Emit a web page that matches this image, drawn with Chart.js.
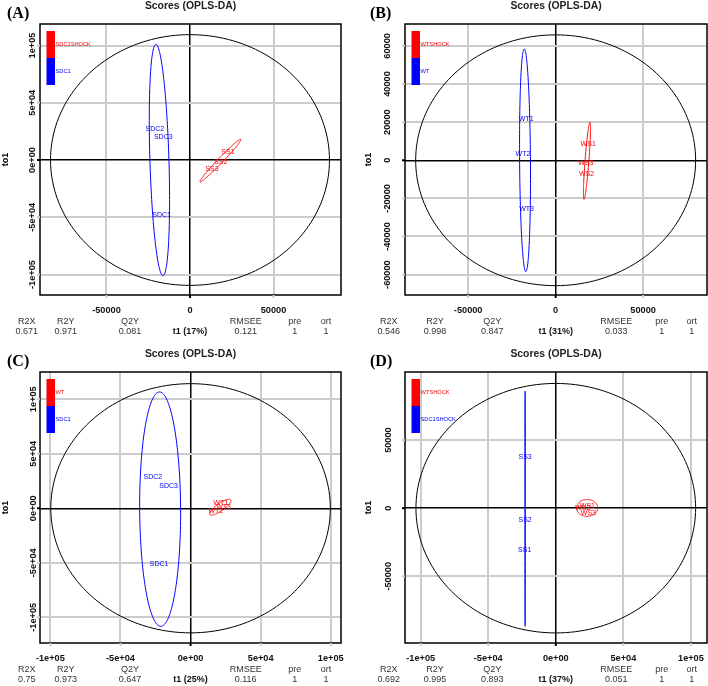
<!DOCTYPE html>
<html lang="en">
<head>
<meta charset="UTF-8" />
<title>Scores (OPLS-DA)</title>
<script src="https://cdn.jsdelivr.net/npm/chart.js@4.4.0/dist/chart.umd.min.js"></script>
<style>
  html, body { margin: 0; padding: 0; background: #fff; }
  #grid { position: relative; width: 708px; height: 686px; }
  .panel { position: absolute; width: 354px; height: 343px; }
</style>
</head>
<body>
<div id="grid">
  <div class="panel" style="left:0;top:0"><canvas id="chartA" width="354" height="343"></canvas></div>
  <div class="panel" style="left:354px;top:0"><canvas id="chartB" width="354" height="343"></canvas></div>
  <div class="panel" style="left:0;top:343px"><canvas id="chartC" width="354" height="343"></canvas></div>
  <div class="panel" style="left:354px;top:343px"><canvas id="chartD" width="354" height="343"></canvas></div>
</div>

<script>
// ---- data ----
const statNames = ['R2X', 'R2Y', 'Q2Y', 'RMSEE', 'pre', 'ort'];
const tickE5 = ['-1e+05', '-5e+04', '0e+00', '5e+04', '1e+05'];

// ellipses are [centre t1, centre to1, half-axis u (t1, to1), half-axis v (t1, to1)]

// (A) SDC1SHOCK vs SDC1
const aGroups = ['SDC1SHOCK', 'SDC1'];
const aRedNames = ['SS1', 'SS2', 'SS3'];
const aRedT1 = [22700, 18400, 13200];
const aRedTo1 = [7000, -1500, -7500];
const aBlueNames = ['SDC2', 'SDC3', 'SDC1'];
const aBlueT1 = [-21000, -16000, -17000];
const aBlueTo1 = [27000, 20000, -48000];
const aStats = ['0.671', '0.971', '0.081', '0.121', '1', '1'];
const aXTicks = [-50000, 0, 50000];
const aXLabels = ['-50000', '0', '50000'];
const aYTicks = [-1e5, -5e4, 0, 5e4, 1e5];
const aXRange = [-89800, 90400];
const aYRange = [-117900, 118800];
const aEllT2 = [0, 0, 83500, 0, 0, 109500];
const aEllRed = [18200, -500, 12200, 18500, 1100, -1500];
const aEllBlue = [-18300, 0, -2100, 101000, 5700, 0];

// (B) WTSHOCK vs WT
const bGroups = ['WTSHOCK', 'WT'];
const bRedNames = ['WS1', 'WS3', 'WS2'];
const bRedT1 = [18600, 17300, 17700];
const bRedTo1 = [8500, -1600, -7300];
const bBlueNames = ['WT1', 'WT2', 'WT3'];
const bBlueT1 = [-16800, -18700, -16600];
const bBlueTo1 = [21500, 3500, -25700];
const bStats = ['0.546', '0.998', '0.847', '0.033', '1', '1'];
const bXTicks = [-50000, 0, 50000];
const bXLabels = ['-50000', '0', '50000'];
const bYTicks = [-60000, -40000, -20000, 0, 20000, 40000, 60000];
const bYLabels = ['-60000', '-40000', '-20000', '0', '20000', '40000', '60000'];
const bXRange = [-86100, 86500];
const bYRange = [-70700, 71500];
const bEllT2 = [0, 0, 80000, 0, 0, 65800];
const bEllRed = [17900, -250, 1700, 20250, 1100, 0];
const bEllBlue = [-17500, 0, -450, 58450, 3100, 0];

// (C) WT vs SDC1
const cGroups = ['WT', 'SDC1'];
const cRedNames = ['WT1', 'WT2', 'WT3'];
const cRedT1 = [21500, 18000, 23500];
const cRedTo1 = [4500, -2500, 1000];
const cBlueNames = ['SDC2', 'SDC3', 'SDC1'];
const cBlueT1 = [-26900, -15700, -22400];
const cBlueTo1 = [29000, 20200, -50800];
const cStats = ['0.75', '0.973', '0.647', '0.116', '1', '1'];
const cXTicks = [-1e5, -5e4, 0, 5e4, 1e5];
const cYTicks = [-1e5, -5e4, 0, 5e4, 1e5];
const cXRange = [-107400, 107300];
const cYRange = [-123600, 125000];
const cEllT2 = [0, 0, 99700, 0, 0, 114300];
const cEllRed = [21200, 1000, 7200, 7000, 2400, -2000];
const cEllBlue = [-21700, -800, -450, 107500, 14600, 0];

// (D) WTSHOCK vs SDC1SHOCK
const dGroups = ['WTSHOCK', 'SDC1SHOCK'];
const dRedNames = ['WS1', 'WS2', 'WS3'];
const dRedT1 = [23400, 20000, 24100];
const dRedTo1 = [1900, 0, -3500];
const dBlueNames = ['SS3', 'SS2', 'SS1'];
const dBlueT1 = [-22700, -22700, -23000];
const dBlueTo1 = [37900, -8600, -30900];
const dStats = ['0.692', '0.995', '0.893', '0.051', '1', '1'];
const dXTicks = [-1e5, -5e4, 0, 5e4, 1e5];
const dYTicks = [-50000, 0, 50000];
const dYLabels = ['-50000', '0', '50000'];
const dXRange = [-111600, 111900];
const dYRange = [-99000, 100000];
const dEllT2 = [0, 0, 103500, 0, 0, 91600];
const dEllRed = [23200, 200, 7800, 0, 0, 6200];
const dEllBlue = [-22700, -400, 0, 86400, 40, 0];

// ---- drawing ----
const RED = '#ff0000', BLUE = '#0000ff', GRID = '#cccccc';
const SANS = '"Liberation Sans", Arial, sans-serif';

function points(xs, ys) { return xs.map((x, i) => ({ x, y: ys[i] })); }

function text(ctx, str, x, y, font, color, align, rot) {
  ctx.save();
  ctx.font = font;
  ctx.fillStyle = color || '#000';
  ctx.textAlign = align || 'center';
  ctx.textBaseline = 'middle';
  ctx.translate(x, y);
  if (rot) ctx.rotate(rot);
  ctx.fillText(str, 0, 0);
  ctx.restore();
}

const oplsPlugin = {
  id: 'opls',
  afterDatasetsDraw(chart, args, o) {
    const { ctx, scales: { x, y } } = chart;
    // ellipses through the scales
    o.ellipses.forEach(([e, color]) => {
      ctx.save();
      ctx.beginPath();
      for (let i = 0; i <= 180; i++) {
        const t = i / 180 * Math.PI * 2;
        const px = x.getPixelForValue(e[0] + e[2] * Math.cos(t) + e[4] * Math.sin(t));
        const py = y.getPixelForValue(e[1] + e[3] * Math.cos(t) + e[5] * Math.sin(t));
        i ? ctx.lineTo(px, py) : ctx.moveTo(px, py);
      }
      ctx.strokeStyle = color;
      ctx.lineWidth = 1;
      ctx.stroke();
      ctx.restore();
    });
    // sample names in place of the points
    chart.data.datasets.forEach((ds, di) => {
      chart.getDatasetMeta(di).data.forEach((pt, i) => {
        text(ctx, ds.names[i], pt.x, pt.y, '7px ' + SANS, ds.borderColor);
      });
    });
  },
  afterDraw(chart, args, o) {
    const { ctx, chartArea: a, scales: { x, y } } = chart;
    const midY = (a.top + a.bottom) / 2;
    ctx.save();
    ctx.strokeStyle = '#000';
    ctx.lineWidth = 1.5;
    ctx.strokeRect(a.left, a.top, a.right - a.left, a.bottom - a.top);
    // small tick marks outside the box
    ctx.lineWidth = 2;
    x.ticks.forEach(t => {
      const px = x.getPixelForValue(t.value);
      ctx.strokeStyle = t.value === 0 ? '#000' : GRID;
      ctx.beginPath(); ctx.moveTo(px, a.bottom); ctx.lineTo(px, a.bottom + 3); ctx.stroke();
    });
    y.ticks.forEach(t => {
      const py = y.getPixelForValue(t.value);
      ctx.strokeStyle = t.value === 0 ? '#000' : GRID;
      ctx.beginPath(); ctx.moveTo(a.left - 3, py); ctx.lineTo(a.left, py); ctx.stroke();
    });
    // legend bars
    ctx.fillStyle = RED;
    ctx.fillRect(a.left + 6.5, a.top + 7, 8.5, 27);
    ctx.fillStyle = BLUE;
    ctx.fillRect(a.left + 6.5, a.top + 34, 8.5, 27);
    ctx.restore();
    text(ctx, o.groups[0], a.left + 15.5, a.top + 20.5, '5.7px ' + SANS, RED, 'left');
    text(ctx, o.groups[1], a.left + 15.5, a.top + 47.5, '5.7px ' + SANS, BLUE, 'left');

    text(ctx, 'Scores (OPLS-DA)', (a.left + a.right) / 2, a.top - 18, 'bold 10.4px ' + SANS, '#222');
    text(ctx, o.letter, o.letterX, a.top - 10, 'bold 16px "Liberation Serif", serif', '#000', 'left');
    text(ctx, 'to1', o.toX, midY, 'bold 9px ' + SANS, '#000', 'center', -Math.PI / 2);

    o.yLabels.forEach((lab, i) => {
      text(ctx, lab, o.yTickX, y.getPixelForValue(o.yTicks[i]), 'bold 9.2px ' + SANS, '#111', 'center', -Math.PI / 2);
    });
    o.xLabels.forEach((lab, i) => {
      text(ctx, lab, x.getPixelForValue(o.xTicks[i]), a.bottom + 15.7, 'bold 9.2px ' + SANS, '#111');
    });
    statNames.forEach((n, i) => {
      text(ctx, n, o.cols[i], a.bottom + 27, '9px ' + SANS, '#333');
      text(ctx, o.stats[i], o.cols[i], a.bottom + 37, '9px ' + SANS, '#333');
    });
    text(ctx, o.t1, x.getPixelForValue(0), a.bottom + 37, 'bold 9px ' + SANS, '#111');
  }
};

function buildPanel(id, p) {
  const tickList = vals => scale => { scale.ticks = vals.map(v => ({ value: v })); };
  const gridOpts = {
    color: c => (c.tick && c.tick.value === 0 ? '#000' : GRID),
    lineWidth: c => (c.tick && c.tick.value === 0 ? 1.5 : 2),
    drawTicks: false
  };
  new Chart(document.getElementById(id), {
    type: 'scatter',
    data: {
      datasets: [
        { data: points(p.redT1, p.redTo1), names: p.redNames, borderColor: RED, pointRadius: 0 },
        { data: points(p.blueT1, p.blueTo1), names: p.blueNames, borderColor: BLUE, pointRadius: 0 }
      ]
    },
    options: {
      responsive: false,
      devicePixelRatio: 1,
      animation: false,
      layout: { padding: { left: p.box[0], top: p.box[1], right: 354 - p.box[2], bottom: 343 - p.box[3] } },
      scales: {
        x: {
          type: 'linear', bounds: 'data', min: p.xRange[0], max: p.xRange[1],
          afterBuildTicks: tickList(p.xTicks),
          ticks: { display: false }, grid: gridOpts, border: { display: false }
        },
        y: {
          type: 'linear', bounds: 'data', min: p.yRange[0], max: p.yRange[1],
          afterBuildTicks: tickList(p.yTicks),
          ticks: { display: false }, grid: gridOpts, border: { display: false }
        }
      },
      plugins: {
        legend: { display: false },
        tooltip: { enabled: false },
        opls: {
          ellipses: [[p.ellT2, '#000'], [p.ellBlue, BLUE], [p.ellRed, RED]],
          groups: p.groups, letter: p.letter, letterX: p.letterX, toX: p.toX, yTickX: p.yTickX,
          xTicks: p.xTicks, xLabels: p.xLabels, yTicks: p.yTicks, yLabels: p.yLabels,
          cols: p.cols, stats: p.stats, t1: p.t1
        }
      }
    },
    plugins: [oplsPlugin]
  });
}

const colsLeft = [26.7, 65.7, 130, 245.7, 294.7, 326];
const colsRight = [34.7, 81, 138.3, 262.3, 307.7, 337.7];

buildPanel('chartA', {
  box: [40, 24, 341, 295], letter: '(A)', letterX: 7, toX: 6, yTickX: 32.5, cols: colsLeft, t1: 't1 (17%)',
  groups: aGroups, redNames: aRedNames, redT1: aRedT1, redTo1: aRedTo1,
  blueNames: aBlueNames, blueT1: aBlueT1, blueTo1: aBlueTo1, stats: aStats,
  xTicks: aXTicks, xLabels: aXLabels, yTicks: aYTicks, yLabels: tickE5,
  xRange: aXRange, yRange: aYRange, ellT2: aEllT2, ellRed: aEllRed, ellBlue: aEllBlue
});
buildPanel('chartB', {
  box: [51, 24, 353, 295], letter: '(B)', letterX: 16, toX: 15, yTickX: 33, cols: colsRight, t1: 't1 (31%)',
  groups: bGroups, redNames: bRedNames, redT1: bRedT1, redTo1: bRedTo1,
  blueNames: bBlueNames, blueT1: bBlueT1, blueTo1: bBlueTo1, stats: bStats,
  xTicks: bXTicks, xLabels: bXLabels, yTicks: bYTicks, yLabels: bYLabels,
  xRange: bXRange, yRange: bYRange, ellT2: bEllT2, ellRed: bEllRed, ellBlue: bEllBlue
});
buildPanel('chartC', {
  box: [40, 29, 341, 300], letter: '(C)', letterX: 7, toX: 6, yTickX: 33, cols: colsLeft, t1: 't1 (25%)',
  groups: cGroups, redNames: cRedNames, redT1: cRedT1, redTo1: cRedTo1,
  blueNames: cBlueNames, blueT1: cBlueT1, blueTo1: cBlueTo1, stats: cStats,
  xTicks: cXTicks, xLabels: tickE5, yTicks: cYTicks, yLabels: tickE5,
  xRange: cXRange, yRange: cYRange, ellT2: cEllT2, ellRed: cEllRed, ellBlue: cEllBlue
});
buildPanel('chartD', {
  box: [51, 29, 353, 300], letter: '(D)', letterX: 16, toX: 15, yTickX: 34, cols: colsRight, t1: 't1 (37%)',
  groups: dGroups, redNames: dRedNames, redT1: dRedT1, redTo1: dRedTo1,
  blueNames: dBlueNames, blueT1: dBlueT1, blueTo1: dBlueTo1, stats: dStats,
  xTicks: dXTicks, xLabels: tickE5, yTicks: dYTicks, yLabels: dYLabels,
  xRange: dXRange, yRange: dYRange, ellT2: dEllT2, ellRed: dEllRed, ellBlue: dEllBlue
});
</script>
</body>
</html>
